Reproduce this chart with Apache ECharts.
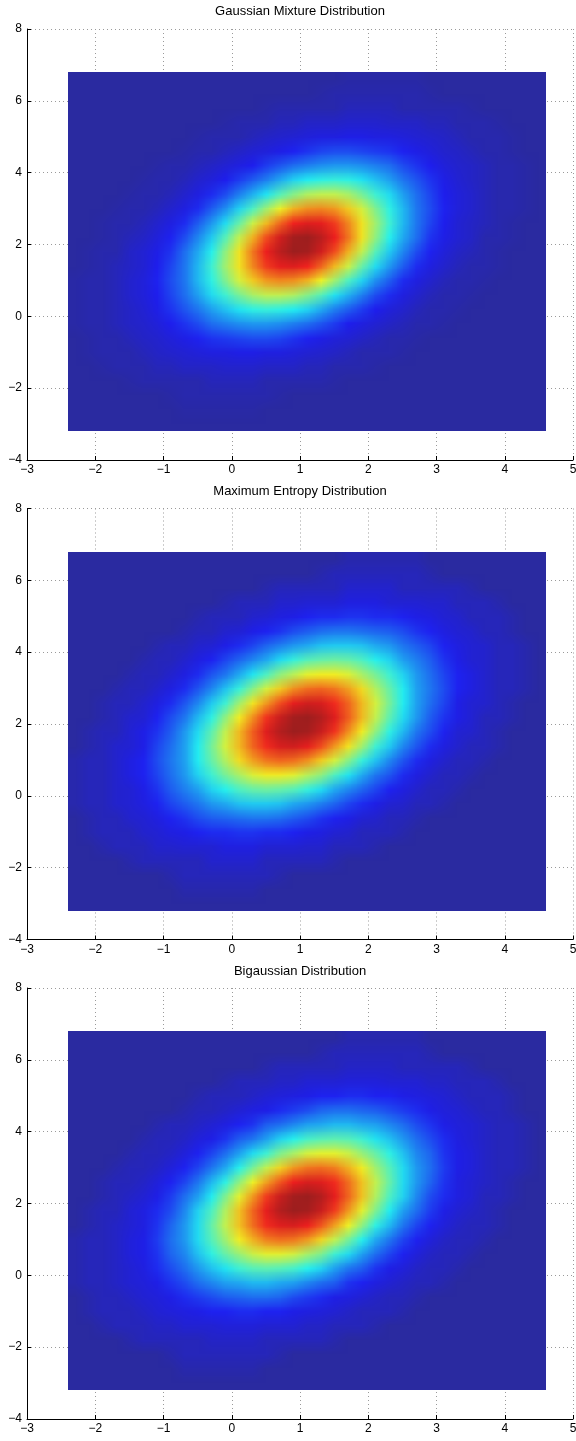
<!DOCTYPE html>
<html>
<head>
<meta charset="utf-8">
<script src="https://cdn.jsdelivr.net/npm/echarts@6/dist/echarts.min.js"></script>
<style>
  html, body { margin: 0; padding: 0; background: #ffffff; }
  #chart { width: 576px; height: 1441px; }
</style>
</head>
<body>
<div id="chart"></div>
<script>
// ---------------- data ----------------
const titles = ['Gaussian Mixture Distribution', 'Maximum Entropy Distribution', 'Bigaussian Distribution'];
const xTicks = [-3, -2, -1, 0, 1, 2, 3, 4, 5];
const yTicks = [-4, -2, 0, 2, 4, 6, 8];

// centres of the mesh cells (x columns, y rows)
const xCenters = [-2.3,-2.1,-1.9,-1.7,-1.5,-1.3,-1.1,-0.9,-0.7,-0.5,-0.3,-0.1,0.1,0.3,0.5,0.7,0.9,1.1,1.3,1.5,1.7,1.9,2.1,2.3,2.5,2.7,2.9,3.1,3.3,3.5,3.7,3.9,4.1,4.3,4.5];
const yCenters = [-3.0,-2.6,-2.2,-1.8,-1.4,-1.0,-0.6,-0.2,0.2,0.6,1.0,1.4,1.8,2.2,2.6,3.0,3.4,3.8,4.2,4.6,5.0,5.4,5.8,6.2,6.6];

// relative density (% of peak), one row per yCenters entry, one column per xCenters entry
const gaussianMixture = [
  [0,0,0,0,0, 0,0,0,0,0, 0,0,0,0,0, 0,0,0,0,0, 0,0,0,0,0, 0,0,0,0,0, 0,0,0,0,0],
  [0,0,0,0,0, 0,0,0,1,1, 1,1,1,1,0, 0,0,0,0,0, 0,0,0,0,0, 0,0,0,0,0, 0,0,0,0,0],
  [0,0,0,0,0, 0,0,1,2,2, 2,2,2,2,2, 1,0,0,0,0, 0,0,0,0,0, 0,0,0,0,0, 0,0,0,0,0],
  [0,0,0,0,1, 2,2,2,2,2, 4,4,4,4,2, 2,2,2,2,1, 0,0,0,0,0, 0,0,0,0,0, 0,0,0,0,0],
  [0,0,1,2,2, 2,4,4,6,6, 6,7,7,7,6, 6,6,4,4,2, 2,2,1,0,0, 0,0,0,0,0, 0,0,0,0,0],
  [0,1,2,2,2, 4,6,7,8,9, 10,10,11,11,10, 10,9,8,7,6, 4,2,2,2,1, 0,0,0,0,0, 0,0,0,0,0],
  [0,1,2,2,4, 6,7,9,11,13, 15,16,17,18,18, 17,15,13,11,9, 8,6,4,2,2, 1,0,0,0,0, 0,0,0,0,0],
  [1,2,2,4,6, 7,9,12,15,18, 22,24,26,27,27, 26,24,22,19,16, 12,10,8,6,4, 2,2,1,0,0, 0,0,0,0,0],
  [1,2,2,4,6, 8,11,15,19,23, 28,32,36,39,40, 39,37,34,29,24, 20,16,12,9,7, 4,2,2,1,0, 0,0,0,0,0],
  [1,2,2,4,7, 9,12,17,22,28, 35,41,48,54,57, 57,55,50,44,36, 30,24,18,14,10, 7,4,2,2,1, 0,0,0,0,0],
  [1,2,2,4,7, 9,13,18,23,31, 39,49,59,67,73, 75,74,70,62,53, 43,34,26,20,14, 10,7,4,2,2, 1,0,0,0,0],
  [0,1,2,4,6, 8,12,17,23,31, 41,53,64,75,84, 89,90,87,79,69, 58,46,35,27,20, 14,10,7,4,2, 2,1,0,0,0],
  [0,1,2,2,6, 8,11,15,22,29, 38,51,64,77,88, 95,99,98,92,82, 70,57,44,33,25, 18,13,9,6,4, 2,1,0,0,0],
  [0,0,1,2,4, 6,9,13,18,25, 33,44,57,70,82, 92,98,99,95,88, 77,64,51,38,29, 22,15,11,8,6, 2,2,1,0,0],
  [0,0,1,2,2, 4,7,10,14,20, 27,35,46,58,69, 79,87,90,89,84, 75,64,53,41,31, 23,17,12,8,6, 4,2,1,0,0],
  [0,0,0,1,2, 2,4,7,10,14, 20,26,34,43,53, 62,70,74,75,73, 67,59,49,39,31, 23,18,13,9,7, 4,2,2,1,0],
  [0,0,0,0,1, 2,2,4,7,10, 14,18,24,30,36, 44,50,55,57,57, 54,48,41,35,28, 22,17,12,9,7, 4,2,2,1,0],
  [0,0,0,0,0, 1,2,2,4,7, 9,12,16,20,24, 29,34,37,39,40, 39,36,32,28,23, 19,15,11,8,6, 4,2,2,1,0],
  [0,0,0,0,0, 0,1,2,2,4, 6,8,10,12,16, 19,22,24,26,27, 27,26,24,22,18, 15,12,9,7,6, 4,2,2,1,0],
  [0,0,0,0,0, 0,0,0,1,2, 2,4,6,8,9, 11,13,15,17,18, 18,17,16,15,13, 11,9,7,6,4, 2,2,1,0,0],
  [0,0,0,0,0, 0,0,0,0,1, 2,2,2,4,6, 7,8,9,10,10, 11,11,10,10,9, 8,7,6,4,2, 2,2,1,0,0],
  [0,0,0,0,0, 0,0,0,0,0, 0,1,2,2,2, 4,4,6,6,6, 7,7,7,6,6, 6,4,4,2,2, 2,1,0,0,0],
  [0,0,0,0,0, 0,0,0,0,0, 0,0,0,0,1, 2,2,2,2,2, 4,4,4,4,2, 2,2,2,2,1, 0,0,0,0,0],
  [0,0,0,0,0, 0,0,0,0,0, 0,0,0,0,0, 0,0,0,1,2, 2,2,2,2,2, 2,1,0,0,0, 0,0,0,0,0],
  [0,0,0,0,0, 0,0,0,0,0, 0,0,0,0,0, 0,0,0,0,0, 1,1,1,1,1, 1,0,0,0,0, 0,0,0,0,0]
];

const maximumEntropy = [
  [0,0,0,0,0, 0,0,0,0,0, 0,0,0,0,0, 0,0,0,0,0, 0,0,0,0,0, 0,0,0,0,0, 0,0,0,0,0],
  [0,0,0,0,0, 0,0,0,2,2, 2,2,2,2,0, 0,0,0,0,0, 0,0,0,0,0, 0,0,0,0,0, 0,0,0,0,0],
  [0,0,0,0,0, 0,0,2,4,4, 4,4,4,4,4, 2,0,0,0,0, 0,0,0,0,0, 0,0,0,0,0, 0,0,0,0,0],
  [0,0,0,0,2, 4,4,4,4,4, 7,7,7,7,4, 4,4,4,4,2, 0,0,0,0,0, 0,0,0,0,0, 0,0,0,0,0],
  [0,0,2,4,4, 4,7,7,8,8, 8,10,10,10,8, 8,8,7,7,4, 4,4,2,0,0, 0,0,0,0,0, 0,0,0,0,0],
  [0,2,4,4,4, 7,8,10,11,13, 14,14,15,15,14, 14,13,11,10,8, 7,4,4,4,2, 0,0,0,0,0, 0,0,0,0,0],
  [0,2,4,4,7, 8,10,13,15,18, 20,21,22,23,23, 22,20,18,15,13, 11,8,7,4,4, 2,0,0,0,0, 0,0,0,0,0],
  [2,4,4,7,8, 10,13,17,20,23, 27,29,32,33,33, 32,29,27,24,21, 17,14,11,8,7, 4,4,2,0,0, 0,0,0,0,0],
  [2,4,4,7,8, 11,15,20,24,28, 34,38,43,46,47, 46,44,40,35,29, 25,21,17,13,10, 7,4,4,2,0, 0,0,0,0,0],
  [2,4,4,7,10, 13,17,22,27,34, 41,48,54,60,63, 63,61,56,51,43, 36,29,23,19,14, 10,7,4,4,2, 0,0,0,0,0],
  [2,4,4,7,10, 13,18,23,28,37, 46,55,65,72,77, 79,78,74,67,59, 50,40,32,25,19, 14,10,7,4,4, 2,0,0,0,0],
  [0,2,4,7,8, 11,17,22,28,37, 48,59,69,79,86, 91,92,89,82,73, 64,53,41,33,25, 19,14,10,7,4, 4,2,0,0,0],
  [0,2,4,4,8, 11,15,20,27,35, 45,57,69,80,90, 96,99,98,93,85, 74,63,51,39,31, 23,18,13,8,7, 4,2,0,0,0],
  [0,0,2,4,7, 8,13,18,23,31, 39,51,63,74,85, 93,98,99,96,90, 80,69,57,45,35, 27,20,15,11,8, 4,4,2,0,0],
  [0,0,2,4,4, 7,10,14,19,25, 33,41,53,64,73, 82,89,92,91,86, 79,69,59,48,37, 28,22,17,11,8, 7,4,2,0,0],
  [0,0,0,2,4, 4,7,10,14,19, 25,32,40,50,59, 67,74,78,79,77, 72,65,55,46,37, 28,23,18,13,10, 7,4,4,2,0],
  [0,0,0,0,2, 4,4,7,10,14, 19,23,29,36,43, 51,56,61,63,63, 60,54,48,41,34, 27,22,17,13,10, 7,4,4,2,0],
  [0,0,0,0,0, 2,4,4,7,10, 13,17,21,25,29, 35,40,44,46,47, 46,43,38,34,28, 24,20,15,11,8, 7,4,4,2,0],
  [0,0,0,0,0, 0,2,4,4,7, 8,11,14,17,21, 24,27,29,32,33, 33,32,29,27,23, 20,17,13,10,8, 7,4,4,2,0],
  [0,0,0,0,0, 0,0,0,2,4, 4,7,8,11,13, 15,18,20,22,23, 23,22,21,20,18, 15,13,10,8,7, 4,4,2,0,0],
  [0,0,0,0,0, 0,0,0,0,2, 4,4,4,7,8, 10,11,13,14,14, 15,15,14,14,13, 11,10,8,7,4, 4,4,2,0,0],
  [0,0,0,0,0, 0,0,0,0,0, 0,2,4,4,4, 7,7,8,8,8, 10,10,10,8,8, 8,7,7,4,4, 4,2,0,0,0],
  [0,0,0,0,0, 0,0,0,0,0, 0,0,0,0,2, 4,4,4,4,4, 7,7,7,7,4, 4,4,4,4,2, 0,0,0,0,0],
  [0,0,0,0,0, 0,0,0,0,0, 0,0,0,0,0, 0,0,0,2,4, 4,4,4,4,4, 4,2,0,0,0, 0,0,0,0,0],
  [0,0,0,0,0, 0,0,0,0,0, 0,0,0,0,0, 0,0,0,0,0, 2,2,2,2,2, 2,0,0,0,0, 0,0,0,0,0]
];

const bigaussian = [
  [0,0,0,0,0, 0,0,0,0,0, 0,0,0,0,0, 0,0,0,0,0, 0,0,0,0,0, 0,0,0,0,0, 0,0,0,0,0],
  [0,0,0,0,0, 0,0,0,2,2, 2,2,2,2,0, 0,0,0,0,0, 0,0,0,0,0, 0,0,0,0,0, 0,0,0,0,0],
  [0,0,0,0,0, 0,0,2,4,4, 4,4,4,4,4, 2,0,0,0,0, 0,0,0,0,0, 0,0,0,0,0, 0,0,0,0,0],
  [0,0,0,0,2, 4,4,4,4,4, 6,6,6,6,4, 4,4,4,4,2, 0,0,0,0,0, 0,0,0,0,0, 0,0,0,0,0],
  [0,0,2,4,4, 4,6,6,8,8, 8,9,9,9,8, 8,8,6,6,4, 4,4,2,0,0, 0,0,0,0,0, 0,0,0,0,0],
  [0,2,4,4,4, 6,8,9,10,11, 13,13,14,14,13, 13,11,10,9,8, 6,4,4,4,2, 0,0,0,0,0, 0,0,0,0,0],
  [0,2,4,4,6, 8,9,11,14,16, 18,20,21,22,22, 21,18,16,14,11, 10,8,6,4,4, 2,0,0,0,0, 0,0,0,0,0],
  [2,4,4,6,8, 9,11,15,18,22, 25,28,29,31,31, 29,28,25,22,20, 15,13,10,8,6, 4,4,2,0,0, 0,0,0,0,0],
  [2,4,4,6,8, 10,14,18,22,27, 32,36,41,44,45, 44,42,38,34,28, 23,20,15,11,9, 6,4,4,2,0, 0,0,0,0,0],
  [2,4,4,6,9, 11,15,21,25,32, 39,46,52,58,61, 61,59,54,49,41, 35,28,22,17,13, 9,6,4,4,2, 0,0,0,0,0],
  [2,4,4,6,9, 11,16,22,27,35, 44,53,63,70,76, 78,77,73,66,57, 48,38,29,23,17, 13,9,6,4,4, 2,0,0,0,0],
  [0,2,4,6,8, 10,15,21,27,35, 46,57,68,78,86, 90,91,88,81,72, 62,51,39,31,23, 17,13,9,6,4, 4,2,0,0,0],
  [0,2,4,4,8, 10,14,18,25,34, 43,55,68,79,89, 96,99,98,93,84, 73,61,49,37,28, 22,16,11,8,6, 4,2,0,0,0],
  [0,0,2,4,6, 8,11,16,22,28, 37,49,61,73,84, 93,98,99,96,89, 79,68,55,43,34, 25,18,14,10,8, 4,4,2,0,0],
  [0,0,2,4,4, 6,9,13,17,23, 31,39,51,62,72, 81,88,91,90,86, 78,68,57,46,35, 27,21,15,10,8, 6,4,2,0,0],
  [0,0,0,2,4, 4,6,9,13,17, 23,29,38,48,57, 66,73,77,78,76, 70,63,53,44,35, 27,22,16,11,9, 6,4,4,2,0],
  [0,0,0,0,2, 4,4,6,9,13, 17,22,28,35,41, 49,54,59,61,61, 58,52,46,39,32, 25,21,15,11,9, 6,4,4,2,0],
  [0,0,0,0,0, 2,4,4,6,9, 11,15,20,23,28, 34,38,42,44,45, 44,41,36,32,27, 22,18,14,10,8, 6,4,4,2,0],
  [0,0,0,0,0, 0,2,4,4,6, 8,10,13,15,20, 22,25,28,29,31, 31,29,28,25,22, 18,15,11,9,8, 6,4,4,2,0],
  [0,0,0,0,0, 0,0,0,2,4, 4,6,8,10,11, 14,16,18,21,22, 22,21,20,18,16, 14,11,9,8,6, 4,4,2,0,0],
  [0,0,0,0,0, 0,0,0,0,2, 4,4,4,6,8, 9,10,11,13,13, 14,14,13,13,11, 10,9,8,6,4, 4,4,2,0,0],
  [0,0,0,0,0, 0,0,0,0,0, 0,2,4,4,4, 6,6,8,8,8, 9,9,9,8,8, 8,6,6,4,4, 4,2,0,0,0],
  [0,0,0,0,0, 0,0,0,0,0, 0,0,0,0,2, 4,4,4,4,4, 6,6,6,6,4, 4,4,4,4,2, 0,0,0,0,0],
  [0,0,0,0,0, 0,0,0,0,0, 0,0,0,0,0, 0,0,0,2,4, 4,4,4,4,4, 4,2,0,0,0, 0,0,0,0,0],
  [0,0,0,0,0, 0,0,0,0,0, 0,0,0,0,0, 0,0,0,0,0, 2,2,2,2,2, 2,0,0,0,0, 0,0,0,0,0]
];

const panels = [gaussianMixture, maximumEntropy, bigaussian];

// ---------------- layout & style ----------------
const GRID_LEFT = 27, GRID_WIDTH = 546, GRID_HEIGHT = 431;
const GRID_TOPS = [29, 508.5, 988];
const TITLE_TOPS = [5, 485, 964.5];
const FONT = 'Liberation Sans, Arial, Helvetica, sans-serif';
const VALUE_MAX = 100;
// jet colour map (as RGB stops), slightly lightened like the faceted mesh in the reference
const JET_STOPS = [
  [42, 42, 160], [30, 30, 240], [30, 135, 240], [35, 240, 240], [135, 240, 135],
  [240, 240, 35], [240, 135, 30], [240, 30, 30], [150, 30, 30]
];

const cellW = xCenters[1] - xCenters[0];
const cellH = yCenters[1] - yCenters[0];

function tickText(v) { return String(v).replace('-', '\u2212'); }

function colourOf(v) {
  const t = Math.max(0, Math.min(1, v / VALUE_MAX)) * (JET_STOPS.length - 1);
  const i = Math.min(Math.floor(t), JET_STOPS.length - 2);
  const f = t - i;
  return JET_STOPS[i].map(function (c, n) { return Math.round(c + (JET_STOPS[i + 1][n] - c) * f); });
}

// one pixel per mesh cell; the library stretches it over the cell extent on the axes
function fieldImage(matrix) {
  const w = xCenters.length, h = yCenters.length;
  const cv = document.createElement('canvas');
  cv.width = w; cv.height = h;
  const ctx = cv.getContext('2d');
  const img = ctx.createImageData(w, h);
  matrix.forEach(function (row, j) {
    if (row.length !== w) console.warn('row', j, 'has', row.length, 'values');
    row.forEach(function (v, k) {
      const rgb = colourOf(v);
      const idx = ((h - 1 - j) * w + k) * 4;
      img.data[idx] = rgb[0]; img.data[idx + 1] = rgb[1]; img.data[idx + 2] = rgb[2]; img.data[idx + 3] = 255;
    });
  });
  ctx.putImageData(img, 0, 0);
  return cv;
}

const images = panels.map(fieldImage);
const extent = [
  xCenters[0] - cellW / 2, yCenters[0] - cellH / 2,
  xCenters[xCenters.length - 1] + cellW / 2, yCenters[yCenters.length - 1] + cellH / 2
];

function renderField(params, api) {
  const p0 = api.coord([api.value(0), api.value(3)]);
  const p1 = api.coord([api.value(2), api.value(1)]);
  const x0 = Math.round(p0[0]), y0 = Math.round(p0[1]);
  return {
    type: 'image',
    style: {
      image: images[params.seriesIndex],
      x: x0, y: y0,
      width: Math.round(p1[0]) - x0,
      height: Math.round(p1[1]) - y0
    }
  };
}

const grids = [], xAxes = [], yAxes = [], series = [], titleOpts = [];
panels.forEach(function (matrix, i) {
  grids.push({ left: GRID_LEFT, top: GRID_TOPS[i], width: GRID_WIDTH, height: GRID_HEIGHT, outerBoundsMode: 'none', containLabel: false });
  const axisCommon = {
    gridIndex: i,
    type: 'value',
    axisLine: { show: true, onZero: false, lineStyle: { color: '#000', width: 1 } },
    axisTick: { show: true, inside: true, length: 4, lineStyle: { color: '#000', width: 1 } },
    splitLine: { show: true, lineStyle: { color: '#9a9a9a', width: 1, type: [1, 3] } },
    minorTick: { show: false },
    axisLabel: { color: '#000', fontSize: 12, fontFamily: FONT, formatter: tickText, showMinLabel: true, showMaxLabel: true, hideOverlap: false }
  };
  xAxes.push(Object.assign({}, axisCommon, {
    position: 'bottom',
    min: xTicks[0], max: xTicks[xTicks.length - 1], interval: xTicks[1] - xTicks[0],
    axisLabel: Object.assign({}, axisCommon.axisLabel, { margin: 4 })
  }));
  yAxes.push(Object.assign({}, axisCommon, {
    position: 'left',
    min: yTicks[0], max: yTicks[yTicks.length - 1], interval: yTicks[1] - yTicks[0],
    axisLabel: Object.assign({}, axisCommon.axisLabel, { margin: 5 })
  }));
  series.push({
    type: 'custom',
    name: titles[i],
    xAxisIndex: i, yAxisIndex: i,
    dimensions: ['xLow', 'yLow', 'xHigh', 'yHigh'],
    encode: { x: [0, 2], y: [1, 3] },
    data: [extent],
    renderItem: renderField,
    silent: true,
    clip: true,
    z: 2
  });
  titleOpts.push({
    text: titles[i],
    left: GRID_LEFT + GRID_WIDTH / 2,
    top: TITLE_TOPS[i],
    textAlign: 'center',
    padding: 0,
    textStyle: { fontFamily: FONT, fontSize: 13, fontWeight: 'normal', color: '#000' }
  });
});

const chart = echarts.init(document.getElementById('chart'), null, { renderer: 'canvas' });
chart.setOption({
  animation: false,
  backgroundColor: '#ffffff',
  title: titleOpts,
  grid: grids,
  xAxis: xAxes,
  yAxis: yAxes,
  series: series
});
</script>
</body>
</html>
